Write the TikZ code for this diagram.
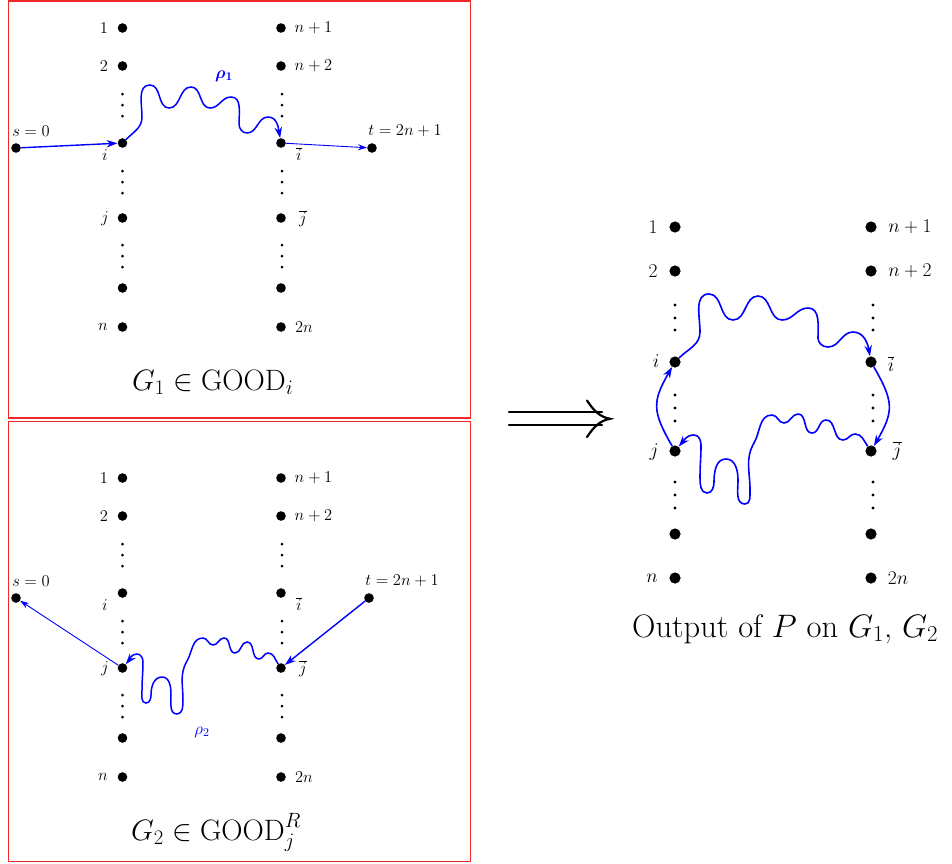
\documentclass[tikz,border=0pt]{standalone}
\usepackage{fix-cm}
\usetikzlibrary{arrows.meta}
\definecolor{boxred}{RGB}{240,40,40}
\newcommand{\colpanel}[2]{%
  % #1: x of t, #2: x of t label
  \foreach \yy/\nm in {28/1,66/2,143/i,218/j,288/m,327/n}{
    \node[dot] (a\nm) at (122.5,\yy) {};
    \node[dot] (b\nm) at (281,\yy) {};
  }
  \foreach \yy in {94,105,116,171,182,193,245,256,267}{
    \fill (122.5,\yy) circle (1.5pt);
    \fill (282,\yy) circle (1.5pt);
  }
  \node[dot] (s) at (16,148) {};
  \node[dot] (t) at (#1,148) {};
  \node[lab] (l1) at (104,28) {$1$};
  \node[lab] (l2) at (104,66) {$2$};
  \node[lab] (li) at (105,155) {$i$};
  \node[lab] (lj) at (105,219) {$j$};
  \node[lab] (ln) at (103,327) {$n$};
  \node[lab] (lb1) at (313.5,28) {$n+1$};
  \node[lab] (lb2) at (313.5,66) {$n+2$};
  \node[lab] (lbi) at (299,154) {$\overline{i}$};
  \node[lab] (lbj) at (303,219) {$\overline{j}$};
  \node[lab] (lbn) at (304,327) {$2n$};
  \node[lab] (ls) at (31,131) {$s=0$};
  \node[lab] (lt) at (#2,131) {$t=2n+1$};
}
\begin{document}
\begin{tikzpicture}[x=1pt,y=-1pt,
  dot/.style={circle,fill=black,inner sep=0pt,minimum size=9.6pt},
  bigdot/.style={circle,fill=black,inner sep=0pt,minimum size=11.2pt},
  lab/.style={inner sep=0pt,font=\fontsize{16.5}{19}\selectfont},
  blab/.style={inner sep=0pt,font=\fontsize{19.5}{23}\selectfont},
  tip/.style={-{Stealth[length=11pt,width=7.5pt,inset=3.5pt]}},
  wave/.style={blue,line width=1.5pt,tip},
  thickarr/.style={blue,line width=1.4pt,tip},
  thinarr/.style={blue,line width=0.9pt,-{Stealth[length=9pt,width=6pt,inset=3pt]}},
  caption/.style={inner sep=0pt,anchor=base west,font=\fontsize{29.5}{34}\selectfont},
  box/.style={draw=boxred,line width=1.8pt},
  implies/.style={line width=2.2pt,line cap=round}
]
\useasboundingbox (0,0) rectangle (952,863);

% ---------- top panel ----------
\draw[box] (8.5,0.9) rectangle (470.5,418);
\begin{scope}
  \colpanel{372}{405}
  \draw[thickarr] (s) -- (ai);
  \draw[thinarr] (bi) -- (t);
  \draw[wave] (ai) to[out=45,in=-90] (142,117)
    to[out=90,in=180] (150,85)
    to[out=0,in=180] (169,108)
    to[out=0,in=180] (191,87)
    to[out=0,in=180] (210,108)
    to[out=0,in=180] (231,97)
    to[out=0,in=90] (239,124)
    to[out=-90,in=180] (247,133)
    to[out=0,in=180] (268,117)
    to[out=0,in=100] (bi);
  \node[inner sep=0pt,text=blue,font=\fontsize{17}{20}\selectfont\boldmath] (rho1) at (224,76) {$\rho_1$};
  \node[caption] (cap1) at (132,390) {$G_1\in\mathrm{GOOD}_i$};
\end{scope}

% ---------- bottom panel ----------
\draw[box] (8.5,421.5) rectangle (470.5,861.5);
\begin{scope}[shift={(0,450)},name prefix=g2-]
  \colpanel{369}{402}
  \draw[thinarr] (aj) -- (s);
  \draw[thickarr] (t) -- (bj);
  \draw[wave] (bj) to[out=125,in=0] (268,203)
    to[out=180,in=0] (259,209)
    to[out=180,in=0] (247,192)
    to[out=180,in=0] (235,203)
    to[out=180,in=0] (224,188)
    to[out=180,in=0] (213,195)
    to[out=180,in=0] (203,188)
    to[out=180,in=60] (187,211)
    to[out=240,in=90] (183,250)
    to[out=-90,in=0] (177,264)
    to[out=180,in=-90] (171,245)
    to[out=90,in=0] (162,227)
    to[out=180,in=90] (151,245)
    to[out=-90,in=0] (146,253)
    to[out=180,in=-90] (142,240)
    to[out=90,in=-90] (143,212)
    to[out=90,in=0] (137,204)
    to[out=180,in=50] (aj);
  \node[inner sep=0pt,text=blue,font=\fontsize{17}{20}\selectfont] (rho2) at (202,282) {$\rho_2$};
  \node[caption] (cap2) at (131,390) {$G_2\in\mathrm{GOOD}_j^R$};
\end{scope}

% ---------- implication arrow ----------
\draw[implies] (509,412.3) -- (602,412.3);
\draw[implies] (509,425.2) -- (602,425.2);
\draw[implies] (587,400.5) .. controls (594,411) and (600,417) .. (610,418.8)
  .. controls (600,420.6) and (594,426.6) .. (587,437);

% ---------- right panel ----------
\foreach \yy/\nm in {227/1,271/2,362/i,451/j,534/m,578/n}{
  \node[bigdot] (ra\nm) at (675,\yy) {};
  \node[bigdot] (rb\nm) at (871,\yy) {};
}
\foreach \yy in {305,318,330,395,408,421,482,495,508}{
  \fill (675,\yy) circle (1.7pt);
  \fill (873,\yy) circle (1.7pt);
}
\node[blab] (rl1) at (653,227) {$1$};
\node[blab] (rl2) at (653,271) {$2$};
\node[blab] (rli) at (656,361) {$i$};
\node[blab] (rlj) at (654,452) {$j$};
\node[blab] (rln) at (652,578) {$n$};
\node[blab] (rlb1) at (910,227) {$n+1$};
\node[blab] (rlb2) at (910,271) {$n+2$};
\node[blab] (rlbi) at (891,364) {$\overline{i}$};
\node[blab] (rlbj) at (897,451) {$\overline{j}$};
\node[blab] (rlbn) at (898,578) {$2n$};

\draw[wave,line width=1.6pt] (rai) to[out=45,in=-90] (700,332)
  to[out=90,in=180] (709,294)
  to[out=0,in=180] (733,320)
  to[out=0,in=180] (758,296)
  to[out=0,in=180] (782,320)
  to[out=0,in=180] (808,308)
  to[out=0,in=90] (818,338)
  to[out=-90,in=180] (828,347)
  to[out=0,in=180] (853,332)
  to[out=0,in=100] (rbi);
\draw[wave,line width=1.6pt] (rbj) to[out=125,in=0] (855,434)
  to[out=180,in=0] (843,440)
  to[out=180,in=0] (826,420)
  to[out=180,in=0] (812,433)
  to[out=180,in=0] (798,414)
  to[out=180,in=0] (784,423)
  to[out=180,in=0] (772,415)
  to[out=180,in=60] (754,443)
  to[out=240,in=90] (750,490)
  to[out=-90,in=0] (745,504)
  to[out=180,in=-90] (738,480)
  to[out=90,in=0] (726,459)
  to[out=180,in=90] (714,482)
  to[out=-90,in=0] (707,493)
  to[out=180,in=-90] (700,478)
  to[out=90,in=-90] (701,445)
  to[out=90,in=0] (694,435)
  to[out=180,in=50] (raj);
\draw[wave,line width=1.6pt] (raj) to[out=120,in=-120,looseness=1.3] (rai);
\draw[wave,line width=1.6pt] (rbi) to[out=-60,in=60,looseness=1.3] (rbj);

\node[caption,font=\fontsize{32.5}{38}\selectfont] (cap3) at (632,637) {Output of $P$ on $G_1$, $G_2$};
\end{tikzpicture}
\end{document}
